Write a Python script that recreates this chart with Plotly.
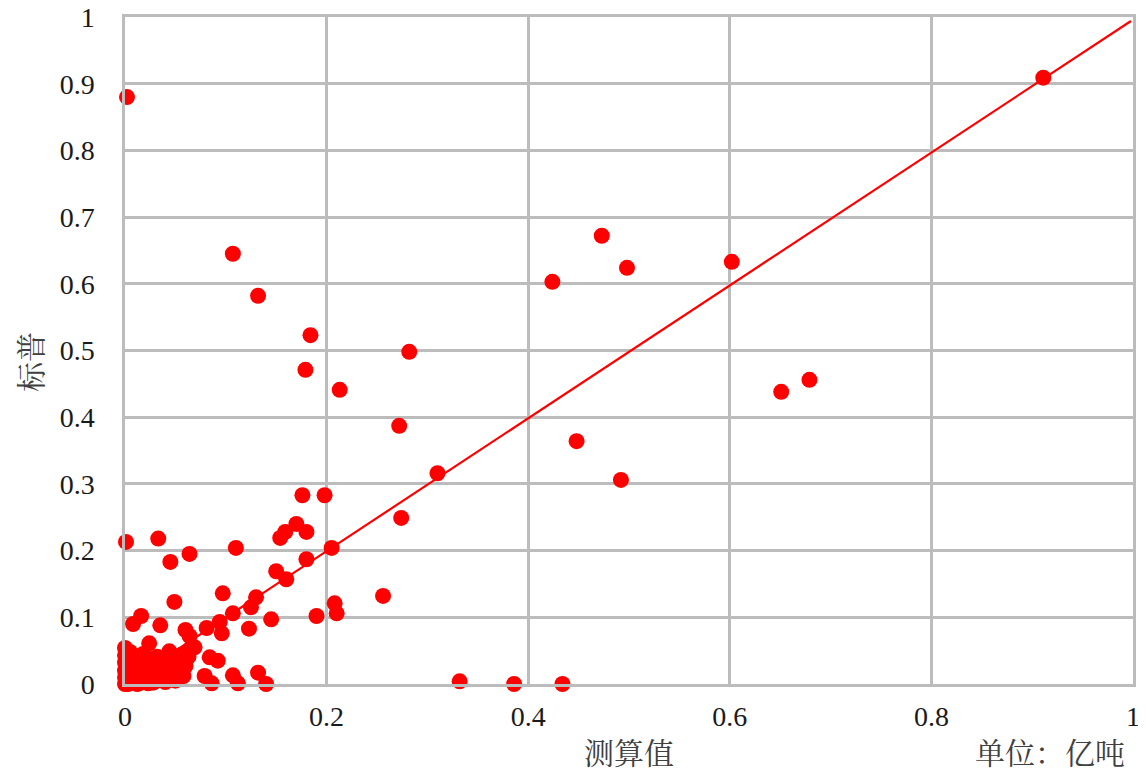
import plotly.graph_objects as go

# 测算值 (x) and 标普 (y), unit: 亿吨
x_vals = [
    0.002, 0.911, 0.107, 0.132, 0.184, 0.179, 0.282, 0.213, 0.272, 0.310,
    0.274, 0.176, 0.198, 0.424, 0.473, 0.498, 0.602, 0.651, 0.679, 0.448,
    0.492, 0.256, 0.208, 0.210, 0.190, 0.332, 0.386, 0.434, 0.001, 0.033,
    0.064, 0.110, 0.045, 0.205, 0.180, 0.160, 0.150, 0.170, 0.159, 0.154,
    0.180, 0.097, 0.130, 0.125, 0.107, 0.145, 0.094, 0.081, 0.123, 0.096,
    0.084, 0.092, 0.079, 0.086, 0.107, 0.112, 0.132, 0.140, 0.049, 0.008,
    0.016, 0.035, 0.060, 0.024, 0.064, 0.069, 0.000, 0.062,
    # dense cluster near the origin
    0.000, 0.000, 0.000, 0.000, 0.000, 0.001, 0.002, 0.003, 0.004, 0.006,
    0.007, 0.008, 0.009, 0.011, 0.012, 0.013, 0.014, 0.016, 0.017, 0.019,
    0.020, 0.021, 0.022, 0.024, 0.025, 0.027, 0.028, 0.030, 0.031, 0.033,
    0.034, 0.036, 0.038, 0.040, 0.041, 0.043, 0.045, 0.047, 0.049, 0.050,
    0.052, 0.054, 0.056, 0.058, 0.060, 0.063, 0.065, 0.005, 0.010, 0.015,
    0.018, 0.026, 0.032, 0.039, 0.044, 0.053, 0.057, 0.003, 0.012, 0.023,
]
y_vals = [
    0.880, 0.909, 0.645, 0.582, 0.523, 0.471, 0.498, 0.441, 0.387, 0.316,
    0.249, 0.283, 0.283, 0.603, 0.672, 0.624, 0.633, 0.438, 0.456, 0.364,
    0.306, 0.132, 0.121, 0.106, 0.102, 0.004, 0.000, 0.000, 0.213, 0.218,
    0.195, 0.204, 0.183, 0.204, 0.187, 0.157, 0.169, 0.240, 0.228, 0.219,
    0.228, 0.136, 0.130, 0.115, 0.106, 0.097, 0.093, 0.084, 0.083, 0.076,
    0.040, 0.035, 0.012, 0.001, 0.013, 0.001, 0.017, 0.000, 0.123, 0.090,
    0.102, 0.088, 0.081, 0.061, 0.072, 0.055, 0.054, 0.045,
    # dense cluster near the origin
    0.000, 0.010, 0.020, 0.032, 0.043, 0.005, 0.015, 0.026, 0.038, 0.002,
    0.012, 0.022, 0.033, 0.006, 0.018, 0.028, 0.001, 0.011, 0.024, 0.035,
    0.004, 0.016, 0.027, 0.008, 0.019, 0.031, 0.002, 0.013, 0.024, 0.036,
    0.006, 0.017, 0.029, 0.003, 0.021, 0.034, 0.010, 0.025, 0.040, 0.005,
    0.019, 0.032, 0.044, 0.012, 0.027, 0.041, 0.053, 0.048, 0.040, 0.030,
    0.045, 0.037, 0.041, 0.012, 0.049, 0.008, 0.014, 0.000, 0.000, 0.001,
]

# reference 1:1 line endpoints
line_x = [0.0, 0.998]
line_y = [0.0, 0.994]

tick_vals_x = [0, 0.2, 0.4, 0.6, 0.8, 1]
tick_text_x = ["0", "0.2", "0.4", "0.6", "0.8", "1"]
tick_vals_y = [0, 0.1, 0.2, 0.3, 0.4, 0.5, 0.6, 0.7, 0.8, 0.9, 1]
tick_text_y = ["0", "0.1", "0.2", "0.3", "0.4", "0.5", "0.6", "0.7", "0.8", "0.9", "1"]

RED = "#ff0000"
GRID = "#bcbcbc"

fig = go.Figure()
fig.add_trace(go.Scatter(
    x=line_x, y=line_y, mode="lines",
    line=dict(color=RED, width=2.2), hoverinfo="skip", showlegend=False,
))
fig.add_trace(go.Scatter(
    x=x_vals, y=y_vals, mode="markers",
    marker=dict(color=RED, size=16, line=dict(width=0)),
    cliponaxis=False, showlegend=False,
))

tickfont = dict(family="Liberation Serif, Times New Roman, serif", size=28, color="#1a1a1a")

fig.update_layout(
    width=1138, height=767,
    margin=dict(l=117, r=13, t=9, b=91, autoexpand=False),
    paper_bgcolor="white", plot_bgcolor="white",
    xaxis=dict(
        range=[0, 1], tickvals=tick_vals_x, ticktext=tick_text_x,
        showgrid=True, gridcolor=GRID, gridwidth=2.5, automargin=False,
        zeroline=False, showline=True, linecolor=GRID, linewidth=2.5, mirror=True,
        ticks="", tickfont=tickfont, ticklabelstandoff=6,
        ticklabeloverflow="allow",
    ),
    yaxis=dict(
        range=[0, 1], tickvals=tick_vals_y, ticktext=tick_text_y,
        showgrid=True, gridcolor=GRID, gridwidth=2.5, automargin=False,
        zeroline=False, showline=True, linecolor=GRID, linewidth=2.5, mirror=True,
        ticks="", tickfont=tickfont, ticklabelstandoff=22,
        ticklabeloverflow="allow",
    ),
    font=dict(family="Noto Sans CJK SC"),
)

title_font = dict(family="Noto Serif CJK SC, Noto Sans CJK SC, serif", size=30, color="#404040")
fig.add_annotation(text="测算值", x=0.5, xref="paper", y=-0.1004, yref="paper",
                   showarrow=False, font=title_font, xanchor="center", yanchor="middle",
                   borderpad=0)
fig.add_annotation(text="单位：亿吨", x=0.993, xref="paper", y=-0.1004, yref="paper",
                   showarrow=False, font=title_font, xanchor="right", yanchor="middle",
                   borderpad=0)
fig.add_annotation(text="标普", x=-0.0952, xref="paper", y=0.483, yref="paper",
                   showarrow=False, font=title_font, textangle=-90,
                   xanchor="center", yanchor="middle", borderpad=0)

fig.write_html("out.html")
